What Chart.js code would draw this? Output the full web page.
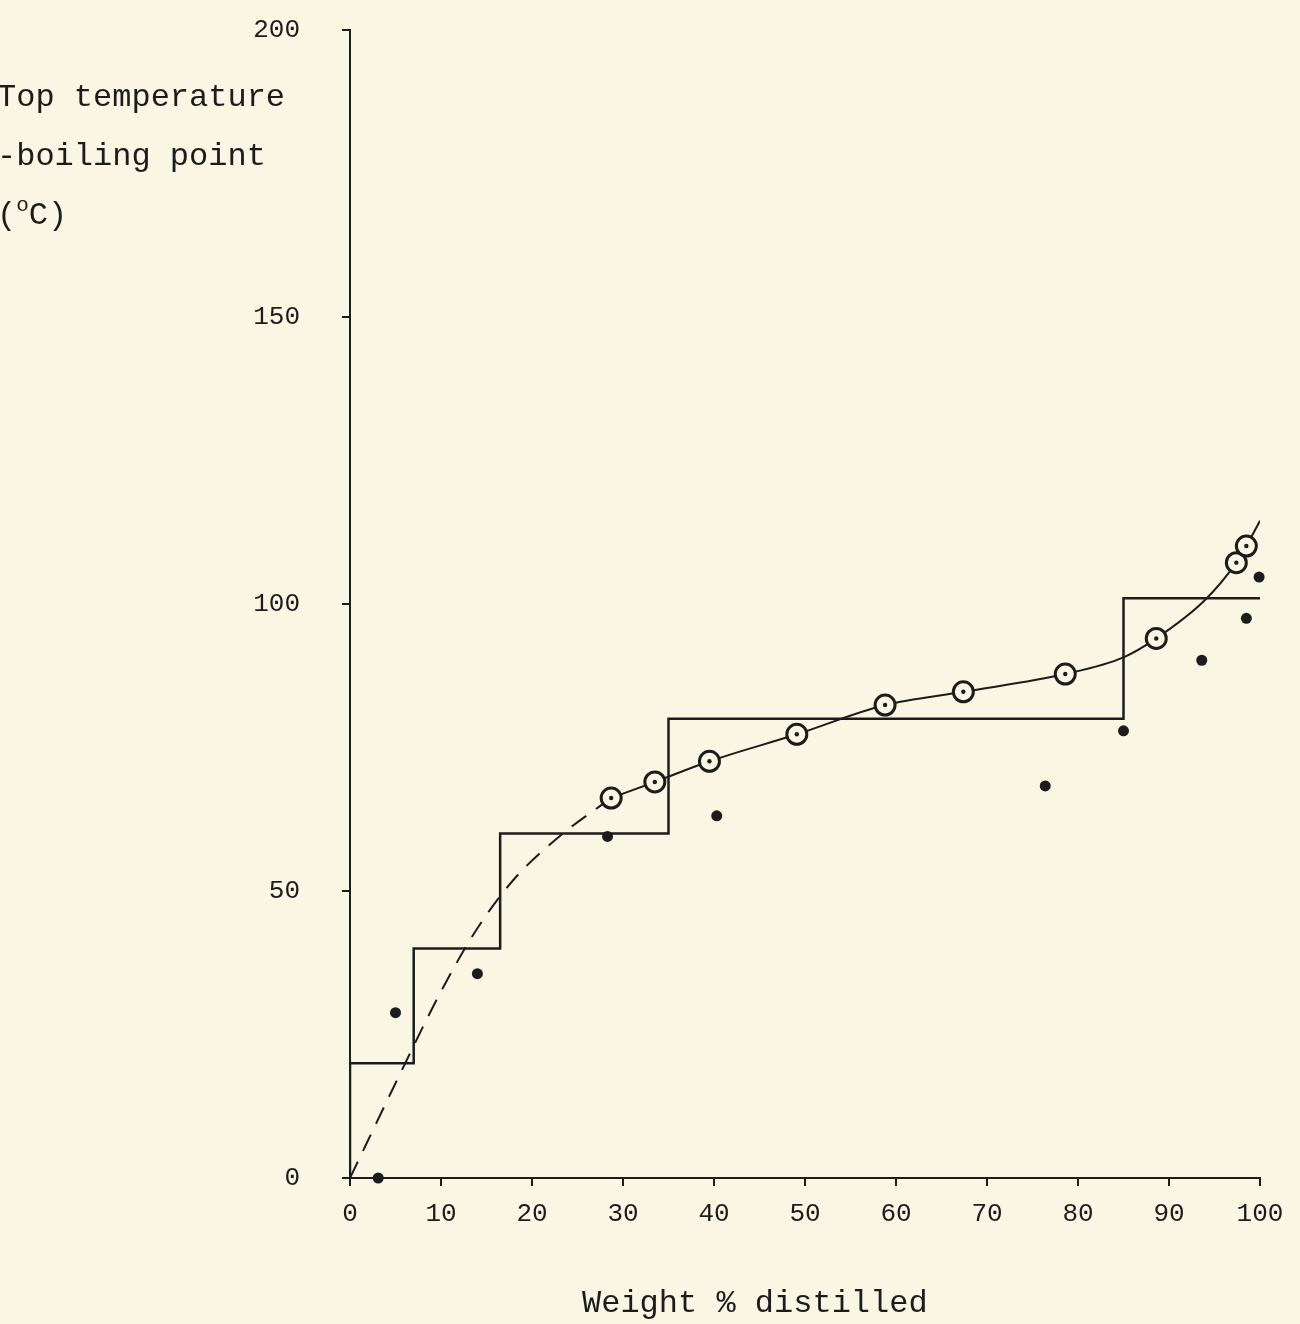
<!DOCTYPE html>
<html>
<head>
<meta charset="utf-8">
<script src="https://cdn.jsdelivr.net/npm/chart.js@4.4.1/dist/chart.umd.min.js"></script>
<style>
  html, body { margin: 0; padding: 0; background: #f9f6e4; }
  #wrap { position: relative; width: 1300px; height: 1324px; overflow: hidden; }
  #wrap canvas { position: absolute; left: 0; top: 0; }
  .lbl { position: absolute; font-family: "Liberation Mono", monospace; font-size: 32px; color: #1c1c1c; white-space: nowrap; }
</style>
</head>
<body>
<div id="wrap">
  <canvas id="bpChart" width="1300" height="1324"></canvas>
  <div class="lbl" style="left:-3px; top:68px; line-height:59px;">Top temperature<br>-boiling point<br>(<span style="font-size:21px; position:relative; top:-13px;">o</span>C)</div>
  <div class="lbl" style="left:582px; top:1285px;">Weight % distilled</div>
</div>
<script>
// cut boundaries (weight % distilled) and top temperature of each cut
const stepX = [0, 0, 7, 16.5, 35, 85, 100];
const stepY = [0, 20, 40, 60, 80, 101, 101];

// open circles (boiling point curve)
const circleX = [28.7, 33.5, 39.5, 49.1, 58.8, 67.4, 78.6, 88.6, 97.4, 98.5];
const circleY = [66.2, 69.0, 72.6, 77.3, 82.4, 84.7, 87.8, 94.0, 107.2, 110.1];

// filled dots
const dotX = [3.1, 5.0, 14.0, 28.3, 40.3, 76.4, 85.0, 93.6, 98.5, 99.9];
const dotY = [0, 28.8, 35.6, 59.5, 63.1, 68.3, 77.9, 90.2, 97.5, 104.7];

// dashed extrapolation towards origin
const dashX = [0, 5, 10, 14, 18, 23, 28.7];
const dashY = [0, 16.5, 32.5, 43.5, 52, 59.5, 66.2];

// solid curve
const fitX = [28.7, 33.5, 39.5, 49.1, 58.8, 67.4, 78.6, 85, 88.6, 93.9, 97.4, 98.5, 100];
const fitY = [66.2, 69.0, 72.6, 77.3, 82.4, 84.7, 87.8, 90.7, 94.0, 100.6, 107.2, 110.1, 114.5];

const xTicks = [0, 10, 20, 30, 40, 50, 60, 70, 80, 90, 100];
const yTicks = [0, 50, 100, 150, 200];

const ink = '#1c1c1c';
const paper = '#f9f6e4';

function pts(xs, ys) {
  return xs.map((x, i) => ({ x: x, y: ys[i] }));
}

const ctx = document.getElementById('bpChart').getContext('2d');
const chart = new Chart(ctx, {
  type: 'scatter',
  data: {
    datasets: [
      { data: pts(circleX, circleY), pointRadius: 2.2, backgroundColor: ink, borderWidth: 0, showLine: false, clip: false },
      { data: pts(circleX, circleY), pointRadius: 10, backgroundColor: paper, borderColor: ink, borderWidth: 3, showLine: false, clip: false },
      { data: pts(dotX, dotY), pointRadius: 5.5, backgroundColor: ink, borderWidth: 0, showLine: false, clip: false },
      { data: pts(fitX, fitY), showLine: true, pointRadius: 0, borderColor: ink, borderWidth: 2, cubicInterpolationMode: 'monotone' },
      { data: pts(dashX, dashY), showLine: true, pointRadius: 0, borderColor: ink, borderWidth: 2, borderDash: [18, 12], cubicInterpolationMode: 'monotone' },
      { data: pts(stepX, stepY), showLine: true, pointRadius: 0, borderColor: ink, borderWidth: 2.5, stepped: 'before' }
    ]
  },
  options: {
    responsive: false,
    animation: false,
    devicePixelRatio: 1,
    layout: { padding: { top: 30, right: 40, left: 0, bottom: 0 } },
    plugins: { legend: { display: false }, tooltip: { enabled: false } },
    scales: {
      x: {
        type: 'linear', min: 0, max: 100,
        afterFit: s => { s.height = 146; },
        afterBuildTicks: s => { s.ticks = xTicks.map(v => ({ value: v })); },
        border: { display: true, color: ink, width: 2 },
        grid: { drawOnChartArea: false, drawTicks: true, tickLength: 8, color: ink, lineWidth: 2 },
        ticks: { color: ink, font: { family: 'Liberation Mono', size: 26 }, padding: 13, maxRotation: 0, autoSkip: false }
      },
      y: {
        type: 'linear', min: 0, max: 200,
        afterFit: s => { s.width = 350; s.paddingTop = 0; s.paddingBottom = 0; },
        afterBuildTicks: s => { s.ticks = yTicks.map(v => ({ value: v })); },
        border: { display: true, color: ink, width: 2 },
        grid: { drawOnChartArea: false, drawTicks: true, tickLength: 8, color: ink, lineWidth: 2 },
        ticks: { color: ink, font: { family: 'Liberation Mono', size: 26 }, padding: 42, autoSkip: false }
      }
    }
  }
});
</script>
</body>
</html>
